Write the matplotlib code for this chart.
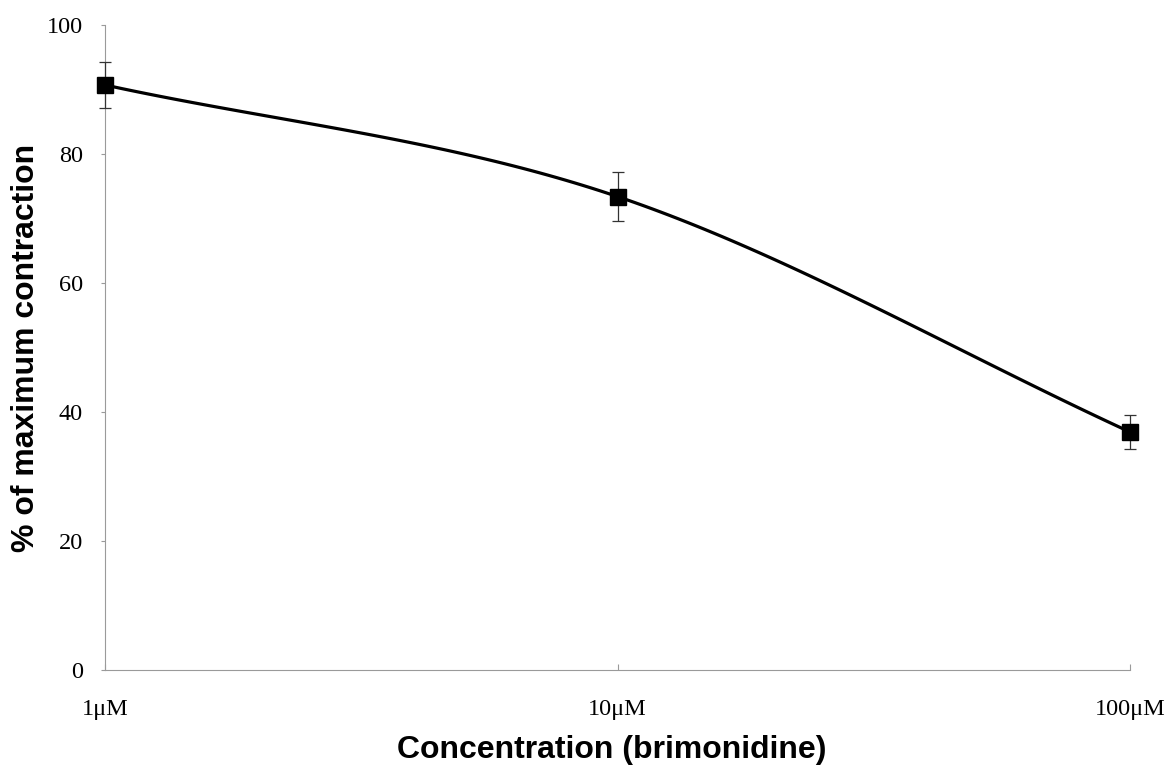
import numpy as np
import matplotlib
matplotlib.use("Agg")
import matplotlib.pyplot as plt

conc = [1, 10, 100]
conc_labels = ["1\u03bcM", "10\u03bcM", "100\u03bcM"]
values = [90.7, 73.4, 36.9]
errors = [3.6, 3.8, 2.6]
yticks = [0, 20, 40, 60, 80, 100]

def catmull_rom(xs, ys, n=60):
    xs = np.asarray(xs, float); ys = np.asarray(ys, float)
    px = np.concatenate([[2*xs[0]-xs[1]], xs, [2*xs[-1]-xs[-2]]])
    py = np.concatenate([[2*ys[0]-ys[1]], ys, [2*ys[-1]-ys[-2]]])
    outx, outy = [], []
    for i in range(1, len(px)-2):
        t = np.linspace(0, 1, n)
        for p, out in ((px, outx), (py, outy)):
            p0, p1, p2, p3 = p[i-1], p[i], p[i+1], p[i+2]
            out.extend(0.5*((2*p1) + (-p0+p2)*t + (2*p0-5*p1+4*p2-p3)*t**2 + (-p0+3*p1-3*p2+p3)*t**3))
    return np.array(outx), np.array(outy)

lx = np.log10(conc)
sx, sy = catmull_rom(lx, values)

fig = plt.figure(figsize=(11.66, 7.74), dpi=100)
ax = fig.add_axes([105/1166, 104/774, (1130-105)/1166, (670-25)/774])
ax.set_xscale("log")
ax.plot(10**sx, sy, color="black", lw=2.3, zorder=3, clip_on=False)
eb = ax.errorbar(conc, values, yerr=errors, fmt="s", color="black", ms=11.5,
                 ecolor="#333333", elinewidth=0.9, capsize=4, capthick=0.9, zorder=4)
for artist in [eb[0], *eb[1], *eb[2]]:
    artist.set_clip_on(False)
ax.set_xlim(1, 100)
ax.set_ylim(0, 100)
ax.set_xticks(conc)
ax.set_xticklabels(conc_labels, fontfamily="Liberation Serif", fontsize=17.5)
ax.xaxis.set_minor_locator(matplotlib.ticker.NullLocator())
ax.set_yticks(yticks)
ax.set_yticklabels([str(v) for v in yticks], fontfamily="Liberation Serif", fontsize=17.5)
for s in ("top", "right"):
    ax.spines[s].set_visible(False)
for s in ("left", "bottom"):
    ax.spines[s].set_color("#9a9a9a")
    ax.spines[s].set_linewidth(0.8)
ax.tick_params(axis="y", direction="out", length=3, width=0.8, color="#9a9a9a", pad=13)
ax.tick_params(axis="x", direction="in", length=4, width=0.8, color="#9a9a9a", pad=21)
fig.text(612/1166, 1-750/774, "Concentration (brimonidine)", fontfamily="Liberation Sans",
         fontweight="bold", fontsize=23, ha="center", va="center")
fig.text(26/1166, 1-348/774, "% of maximum contraction", fontfamily="Liberation Sans",
         fontweight="bold", fontsize=23, ha="center", va="center", rotation=90)
fig.savefig("out.png", dpi=100)
